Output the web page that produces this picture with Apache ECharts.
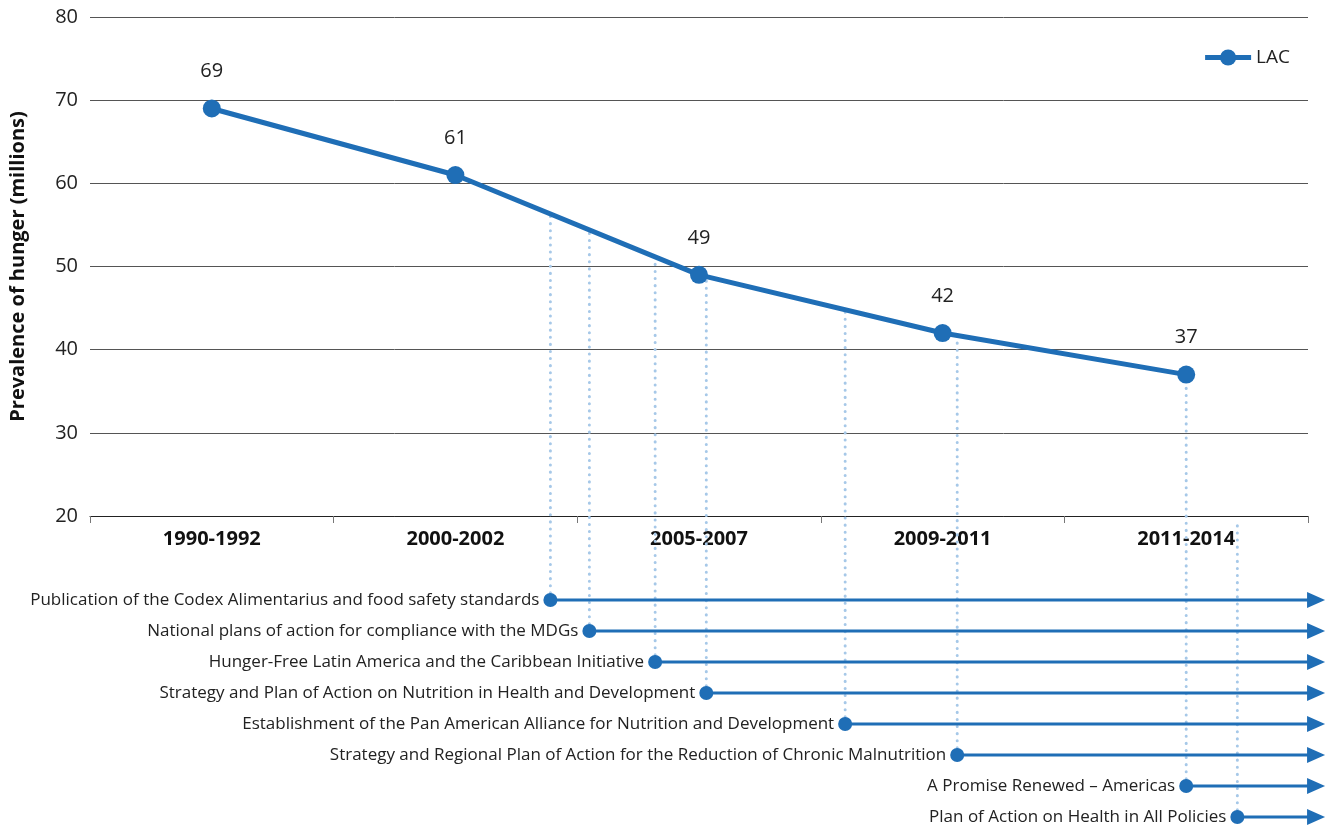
<!DOCTYPE html>
<html><head><meta charset="utf-8">
<script src="https://cdn.jsdelivr.net/npm/echarts@6/dist/echarts.min.js"></script>
<style>html,body{margin:0;padding:0;background:#fff}#c{width:1328px;height:830px}</style>
</head><body><div id="c"></div>
<script>
const periods = ['1990-1992', '2000-2002', '2005-2007', '2009-2011', '2011-2014'];
const hunger = [69, 61, 49, 42, 37];
const seriesName = 'LAC';
const initiatives = [
  'Publication of the Codex Alimentarius and food safety standards',
  'National plans of action for compliance with the MDGs',
  'Hunger-Free Latin America and the Caribbean Initiative',
  'Strategy and Plan of Action on Nutrition in Health and Development',
  'Establishment of the Pan American Alliance for Nutrition and Development',
  'Strategy and Regional Plan of Action for the Reduction of Chronic Malnutrition',
  'A Promise Renewed \u2013 Americas',
  'Plan of Action on Health in All Policies'
];
// start of each initiative on the period scale (0 = left edge of first period band, 5 = right edge of last)
const initiativeStart = [1.89, 2.05, 2.32, 2.53, 3.10, 3.56, 4.50, 4.71];
const timelineEnd = 5.07;

const BLUE = '#1f6eb6';
const LIGHT = '#a6c8e8';
const FONT = '"Open Sans", "Noto Sans", sans-serif';

const chart = echarts.init(document.getElementById('c'), null, {renderer: 'canvas'});

function renderTimeline(params, api) {
  const idx = params.dataIndex;
  const p = api.value(0);
  const start = api.coord([p, idx]);
  const end = api.coord([timelineEnd, idx]);
  const y = start[1];
  let topY;
  const c = p - 0.5;
  try {
    if (c >= 0 && c <= hunger.length - 1 + 1e-9) {
      const k = Math.min(Math.floor(c), hunger.length - 2);
      const a = chart.convertToPixel({xAxisIndex: 0, yAxisIndex: 0}, [k, hunger[k]]);
      const b = chart.convertToPixel({xAxisIndex: 0, yAxisIndex: 0}, [k + 1, hunger[k + 1]]);
      topY = a[1] + (b[1] - a[1]) * (start[0] - a[0]) / (b[0] - a[0]);
    } else {
      topY = chart.convertToPixel({yAxisIndex: 0}, 20) + 4;
    }
  } catch (e) { topY = y; }
  if (topY == null || isNaN(topY)) topY = y;
  const head = 18, half = 8;
  return {
    type: 'group',
    children: [
      {type: 'line', z2: 1, shape: {x1: start[0], y1: y, x2: start[0], y2: topY},
        style: {stroke: LIGHT, lineWidth: 3, lineDash: [0.1, 7], lineCap: 'round'}},
      {type: 'line', z2: 2, shape: {x1: start[0], y1: y, x2: end[0] - head + 2, y2: y},
        style: {stroke: BLUE, lineWidth: 3}},
      {type: 'polygon', z2: 2, shape: {points: [[end[0], y], [end[0] - head, y - half], [end[0] - head, y + half]]},
        style: {fill: BLUE}},
      {type: 'circle', z2: 3, shape: {cx: start[0], cy: y, r: 7}, style: {fill: BLUE}},
      {type: 'text', z2: 3, style: {text: initiatives[idx], x: start[0] - 11, y: y,
        align: 'right', verticalAlign: 'middle', font: '17px ' + FONT, fill: '#222'}}
    ]
  };
}

const option = {
  animation: false,
  backgroundColor: '#fff',
  textStyle: {fontFamily: FONT},
  grid: [
    {left: 90, right: 20, top: 17, bottom: 314, containLabel: false, outerBoundsMode: 'none'},
    {left: 90, right: 20, top: 600, bottom: 13, containLabel: false, outerBoundsMode: 'none'}
  ],
  legend: {
    data: [seriesName], right: 33, top: 43, itemWidth: 46, itemHeight: 20, itemGap: 4,
    lineStyle: {width: 5},
    textStyle: {fontSize: 19, color: '#222', fontFamily: FONT}
  },
  xAxis: [
    {type: 'category', gridIndex: 0, data: periods, boundaryGap: true,
      axisLine: {lineStyle: {color: '#222', width: 1}},
      axisTick: {show: true, length: 7, lineStyle: {color: '#777'}},
      axisLabel: {fontSize: 20, fontWeight: 'bold', color: '#111', margin: 13, fontFamily: FONT},
      splitLine: {show: false}},
    {type: 'value', gridIndex: 1, min: 0, max: 5, show: false}
  ],
  yAxis: [
    {type: 'value', gridIndex: 0, min: 20, max: 80, interval: 10,
      name: 'Prevalence of hunger (millions)', nameLocation: 'middle', nameGap: 62, nameRotate: 90,
      nameTextStyle: {fontSize: 20, fontWeight: 'bold', color: '#111', fontFamily: FONT},
      axisLine: {show: false}, axisTick: {show: false},
      axisLabel: {fontSize: 20, color: '#222', margin: 12, fontFamily: FONT},
      splitLine: {lineStyle: {color: '#555', width: 1}}},
    {type: 'category', gridIndex: 1, data: initiatives, inverse: true, boundaryGap: false, show: false}
  ],
  series: [
    {type: 'custom', name: 'timeline', xAxisIndex: 1, yAxisIndex: 1, clip: false, z: 1,
      renderItem: renderTimeline, silent: true,
      data: initiatives.map((n, i) => [initiativeStart[i], i])},
    {type: 'line', name: seriesName, xAxisIndex: 0, yAxisIndex: 0, data: hunger, z: 5,
      symbol: 'circle', symbolSize: 18,
      lineStyle: {color: BLUE, width: 5}, itemStyle: {color: BLUE},
      label: {show: true, position: 'top', distance: 18, fontSize: 20, color: '#222', fontFamily: FONT}}
  ]
};
chart.setOption(option);
chart.setOption({series: [{renderItem: renderTimeline}]});
</script></body></html>
